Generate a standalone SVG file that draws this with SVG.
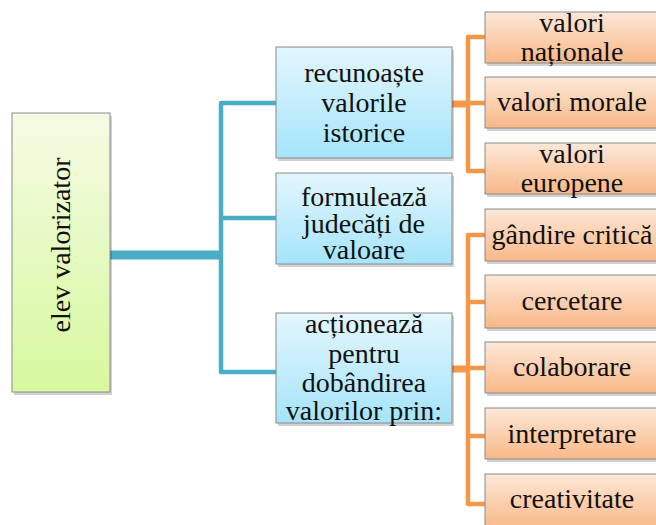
<svg xmlns="http://www.w3.org/2000/svg" width="656" height="525" viewBox="0 0 656 525">
<defs>
<linearGradient id="gGreen" x1="0" y1="0" x2="0" y2="1">
<stop offset="0" stop-color="#f5fbe4"/>
<stop offset="1" stop-color="#d6f89e"/>
</linearGradient>
<linearGradient id="gBlue" x1="0" y1="0" x2="0" y2="1">
<stop offset="0" stop-color="#e4f6fd"/>
<stop offset="1" stop-color="#a4e4fa"/>
</linearGradient>
<linearGradient id="gOrange" x1="0" y1="0" x2="0" y2="1">
<stop offset="0" stop-color="#fde8d8"/>
<stop offset="1" stop-color="#f9b887"/>
</linearGradient>
</defs>
<style>
.box{stroke:#8a8a8a;stroke-width:1}
.sh{fill:#000;fill-opacity:0.18}
.t{font-size:28px;fill:#111}
.cb{fill:none;stroke:#4bacc6;stroke-linejoin:round}
.co{fill:none;stroke:#f79646;stroke-linejoin:round}
</style>
<g id="connectors">
<line class="cb" x1="110" y1="255" x2="223" y2="255" stroke-width="9"/>
<path class="cb" d="M277 103 H221 V372 H277" stroke-width="4.5"/>
<line class="cb" x1="221" y1="218" x2="277" y2="218" stroke-width="4.5"/>
<line class="co" x1="452" y1="104" x2="470" y2="104" stroke-width="7"/>
<path class="co" d="M485 37 H468 V171 H485" stroke-width="4.5"/>
<line class="co" x1="468" y1="103" x2="485" y2="103" stroke-width="4.5"/>
<line class="co" x1="452" y1="369" x2="470" y2="369" stroke-width="7"/>
<path class="co" d="M485 235 H468 V504 H485" stroke-width="4.5"/>
<line class="co" x1="468" y1="302" x2="485" y2="302" stroke-width="4.5"/>
<line class="co" x1="468" y1="368" x2="485" y2="368" stroke-width="4.5"/>
<line class="co" x1="468" y1="436" x2="485" y2="436" stroke-width="4.5"/>
</g>
<g id="root">
<rect class="sh" x="14" y="116" width="98" height="279"/>
<rect class="box" fill="url(#gGreen)" x="12" y="113" width="98" height="279"/>
<text class="t" font-family="Liberation Serif" text-anchor="middle" transform="translate(70,245) rotate(-90)">elev valorizator</text>
</g>
<g id="recunoaste" text-anchor="middle">
<rect class="sh" x="278" y="50" width="176" height="111"/>
<rect class="box" fill="url(#gBlue)" x="276" y="47" width="176" height="111"/>
<text class="t" font-family="Liberation Serif" x="364" y="82">recunoaște</text>
<text class="t" font-family="Liberation Serif" x="364" y="112">valorile</text>
<text class="t" font-family="Liberation Serif" x="364" y="142">istorice</text>
</g>
<g id="formuleaza" text-anchor="middle">
<rect class="sh" x="278" y="176" width="176" height="91"/>
<rect class="box" fill="url(#gBlue)" x="276" y="173" width="176" height="91"/>
<text class="t" font-family="Liberation Serif" x="364" y="206">formulează</text>
<text class="t" font-family="Liberation Serif" x="364" y="233">judecăți de</text>
<text class="t" font-family="Liberation Serif" x="364" y="259">valoare</text>
</g>
<g id="actioneaza" text-anchor="middle">
<rect class="sh" x="278" y="316" width="176" height="110"/>
<rect class="box" fill="url(#gBlue)" x="276" y="313" width="176" height="110"/>
<text class="t" font-family="Liberation Serif" x="364" y="333">acționează</text>
<text class="t" font-family="Liberation Serif" x="364" y="363">pentru</text>
<text class="t" font-family="Liberation Serif" x="364" y="392">dobândirea</text>
<text class="t" font-family="Liberation Serif" x="364" y="420">valorilor prin:</text>
</g>
<g id="valori-nationale" text-anchor="middle">
<rect class="sh" x="487" y="15" width="178" height="51"/>
<rect class="box" fill="url(#gOrange)" x="485" y="12" width="178" height="51"/>
<text class="t" font-family="Liberation Serif" x="572" y="32">valori</text>
<text class="t" font-family="Liberation Serif" x="572" y="61">naționale</text>
</g>
<g id="valori-morale" text-anchor="middle">
<rect class="sh" x="487" y="80" width="178" height="51"/>
<rect class="box" fill="url(#gOrange)" x="485" y="77" width="178" height="51"/>
<text class="t" font-family="Liberation Serif" x="572" y="111">valori morale</text>
</g>
<g id="valori-europene" text-anchor="middle">
<rect class="sh" x="487" y="146" width="178" height="51"/>
<rect class="box" fill="url(#gOrange)" x="485" y="143" width="178" height="51"/>
<text class="t" font-family="Liberation Serif" x="572" y="163">valori</text>
<text class="t" font-family="Liberation Serif" x="572" y="192">europene</text>
</g>
<g id="gandire-critica" text-anchor="middle">
<rect class="sh" x="487" y="212" width="178" height="52"/>
<rect class="box" fill="url(#gOrange)" x="485" y="209" width="178" height="52"/>
<text class="t" font-family="Liberation Serif" x="572" y="244">gândire critică</text>
</g>
<g id="cercetare" text-anchor="middle">
<rect class="sh" x="487" y="278" width="178" height="53"/>
<rect class="box" fill="url(#gOrange)" x="485" y="275" width="178" height="53"/>
<text class="t" font-family="Liberation Serif" x="572" y="310">cercetare</text>
</g>
<g id="colaborare" text-anchor="middle">
<rect class="sh" x="487" y="345" width="178" height="51"/>
<rect class="box" fill="url(#gOrange)" x="485" y="342" width="178" height="51"/>
<text class="t" font-family="Liberation Serif" x="572" y="376">colaborare</text>
</g>
<g id="interpretare" text-anchor="middle">
<rect class="sh" x="487" y="411" width="178" height="51"/>
<rect class="box" fill="url(#gOrange)" x="485" y="408" width="178" height="51"/>
<text class="t" font-family="Liberation Serif" x="572" y="443">interpretare</text>
</g>
<g id="creativitate" text-anchor="middle">
<rect class="sh" x="487" y="477" width="178" height="55"/>
<rect class="box" fill="url(#gOrange)" x="485" y="474" width="178" height="55"/>
<text class="t" font-family="Liberation Serif" x="572" y="508">creativitate</text>
</g>
</svg>
